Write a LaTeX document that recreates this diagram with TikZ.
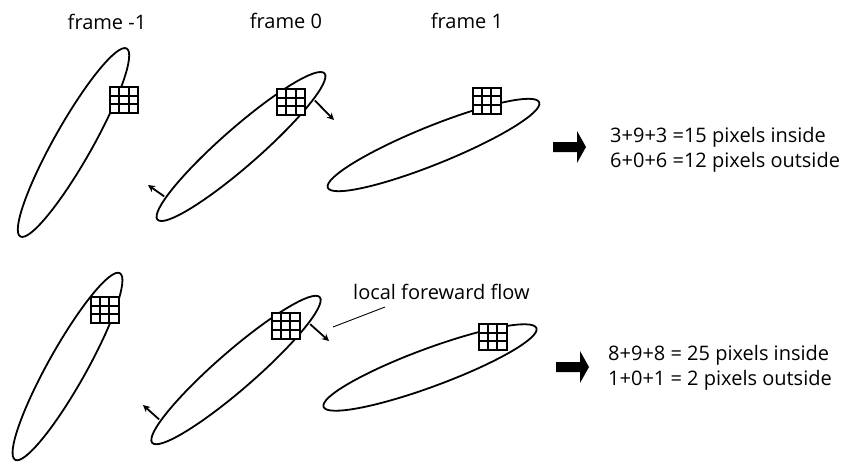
\documentclass[tikz,border=0pt]{standalone}
\usepackage{fontspec}
\setmainfont{Open Sans}
\usetikzlibrary{shapes.geometric,arrows.meta,calc}
\begin{document}
\begin{tikzpicture}[x=1pt,y=-1pt,
  blob/.style={draw, ellipse, line width=1.8pt, minimum height=38pt, inner sep=0pt, outer sep=0pt},
  pixgrid/.style={draw, fill=white, line width=2pt, minimum width=28pt, minimum height=26pt, inner sep=0pt, outer sep=0pt,
    path picture={
      \foreach \f in {1,2}{
        \draw[line width=1.7pt] ($(path picture bounding box.north west)!\f/3!(path picture bounding box.north east)$) -- ($(path picture bounding box.south west)!\f/3!(path picture bounding box.south east)$);
        \draw[line width=1.7pt] ($(path picture bounding box.north west)!\f/3!(path picture bounding box.south west)$) -- ($(path picture bounding box.north east)!\f/3!(path picture bounding box.south east)$);
      }
    }},
  flow/.style={line width=1.8pt, shorten <=2pt, -{Stealth[length=7pt,width=7pt]}},
  txt/.style={font=\fontsize{20}{24}\selectfont, inner sep=0pt},
  thin/.style={line width=0.9pt},
  bigarrow/.style={fill=black}]
\useasboundingbox (0,0) rectangle (845,464);

% titles
\node[txt, anchor=base] (t1) at (107,29) {frame -1};
\node[txt, anchor=base] (t2) at (286,28) {frame 0};
\node[txt, anchor=base] (t3) at (467,28) {frame 1};

% top row ellipses
\node[blob, minimum width=216pt, rotate=60.5] (e1) at (73.5,142.5) {};
\node[blob, minimum width=222pt, rotate=41.2] (e2) at (241,146.5) {};
\node[blob, minimum width=228pt, rotate=22] (e3) at (433.5,145) {};

% bottom row ellipses
\node[blob, minimum width=214pt, rotate=60.7] (e4) at (67.5,366.5) {};
\node[blob, minimum width=222pt, rotate=41] (e5) at (236,370) {};
\node[blob, minimum width=227pt, rotate=20.3] (e6) at (430,367.5) {};

% pixel grids
\node[pixgrid] (g1) at (124,100) {};
\node[pixgrid] (g2) at (291,102) {};
\node[pixgrid] (g3) at (486.5,100.5) {};
\node[pixgrid] (g4) at (104.5,310) {};
\node[pixgrid] (g5) at (285.5,325.5) {};
\node[pixgrid] (g6) at (492.5,337) {};

% flow arrows
\coordinate (f2r) at (334,120);
\coordinate (f2l) at (148,185);
\coordinate (f5r) at (329,341);
\coordinate (f5l) at (143,405);
\draw[flow] (e2.-8) -- (f2r);
\draw[flow] (e2.173) -- (f2l);
\draw[flow] (e5.-8) -- (f5r);
\draw[flow] (e5.173) -- (f5l);

% label
\node[txt, anchor=base west] (lab) at (353,299) {local foreward flow};
\coordinate (l1) at (385,307);
\coordinate (l2) at (333,327);
\draw[thin] (l1) -- (l2);

% block arrows
\fill[bigarrow] (553,142) -- (577,142) -- (577,131) -- (586,147) -- (577,163) -- (577,152) -- (553,152) -- cycle;
\fill[bigarrow] (556,362) -- (580,362) -- (580,351) -- (589,367) -- (580,383) -- (580,372) -- (556,372) -- cycle;

% results
\node[txt, anchor=base west] (r1) at (610,142) {3+9+3 =15 pixels inside};
\node[txt, anchor=base west] (r2) at (610,167) {6+0+6 =12 pixels outside};
\node[txt, anchor=base west] (r3) at (608,360) {8+9+8 = 25 pixels inside};
\node[txt, anchor=base west] (r4) at (608,385) {1+0+1 = 2 pixels outside};
\end{tikzpicture}
\end{document}
